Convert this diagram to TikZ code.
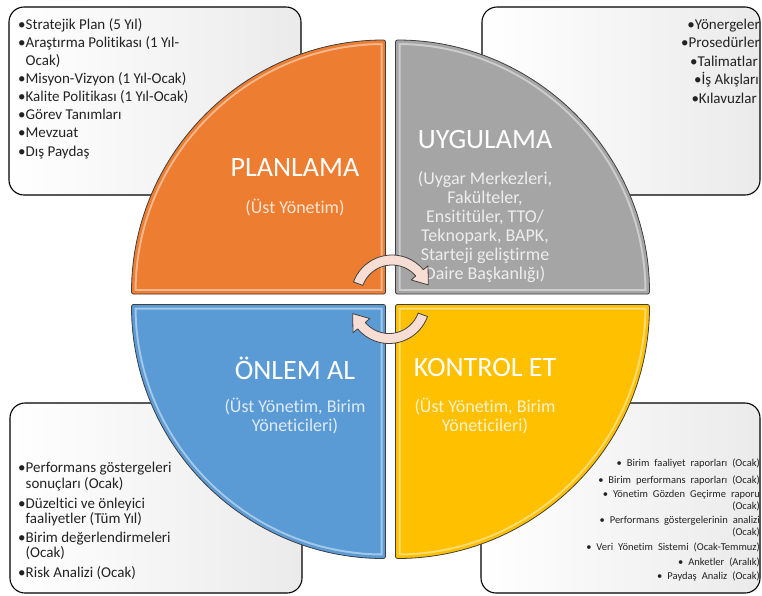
\documentclass[tikz,border=0pt]{standalone}
\usepackage{fontspec}
\setmainfont{Carlito}[Ligatures=NoCommon]
\newfontfamily\notefont{Carlito}[WordSpace=2.1,Ligatures=NoCommon]
\usepackage{tikz}

\definecolor{planorange}{HTML}{ED7D31}
\definecolor{uyggrey}{HTML}{A5A5A5}
\definecolor{onlemblue}{HTML}{5B9BD5}
\definecolor{kontrolgold}{HTML}{FFC000}
\definecolor{arrowpink}{HTML}{F8DDD5}
\definecolor{edgegrey}{HTML}{404040}
\definecolor{itemtext}{HTML}{222222}

% one quarter of the disc: fill, light inner rim, dark outline
\newcommand{\quarterdisc}[2]{%
  \fill[#1, rounded corners=2pt] #2;
  \begin{scope}
    \clip[rounded corners=2pt] #2;
    \draw[white, opacity=.45, line width=10pt, rounded corners=2pt] #2;
    \draw[#1, line width=6pt, rounded corners=2pt] #2;
  \end{scope}
  \draw[edgegrey, line width=.8pt, rounded corners=2pt] #2;
}

\tikzset{
  notebox/.style={draw=black, line width=1.1pt, rounded corners=15pt, left color=white, right color=black!8},
  itemtxt/.style={text=itemtext, font=\fontsize{15}{17}\selectfont, inner sep=0pt},
  tinytxt/.style={text=itemtext, font=\notefont\fontsize{10.5}{12}\selectfont, inner sep=0pt, anchor=base east},
  quadtitle/.style={text=white, font=\fontsize{28}{30}\selectfont},
  quadsub/.style={text=white, text opacity=.8, font=\fontsize{18}{19}\selectfont, align=center},
  cyclearrow/.style={fill=arrowpink, draw=edgegrey, line width=.8pt, line join=round},
}

\begin{document}
\begin{tikzpicture}[x=1pt,y=-1pt]
\useasboundingbox (0,0) rectangle (762,595);

% boxes behind the disc
\draw[notebox] (9,7) rectangle (301,195);
\draw[notebox] (482,7) rectangle (760,195);
\draw[notebox] (10,403) rectangle (302,593);
\draw[notebox] (481,403) rectangle (760,593);

% the four quarters
\quarterdisc{planorange}{(385.5,294) -- (131.5,294) arc (180:270:254) -- cycle}
\quarterdisc{uyggrey}{(395.5,294) -- (395.5,40) arc (270:360:254) -- cycle}
\quarterdisc{kontrolgold}{(395.5,304.5) -- (649.5,304.5) arc (0:90:254) -- cycle}
\quarterdisc{onlemblue}{(385.5,304.5) -- (385.5,558.5) arc (90:180:254) -- cycle}

% planlama list
\node[itemtxt, anchor=base west] (plan1) at (18,29.5) {•Stratejik Plan (5 Yıl)};
\node[itemtxt, anchor=base west] (plan2) at (18,47.5) {•Araştırma Politikası (1 Yıl-};
\node[itemtxt, anchor=base west] (plan3) at (18,65) {\phantom{•}Ocak)};
\node[itemtxt, anchor=base west] (plan4) at (18,83.5) {•Misyon-Vizyon (1 Yıl-Ocak)};
\node[itemtxt, anchor=base west] (plan5) at (18,101) {•Kalite Politikası (1 Yıl-Ocak)};
\node[itemtxt, anchor=base west] (plan6) at (18,119.5) {•Görev Tanımları};
\node[itemtxt, anchor=base west] (plan7) at (18,137.5) {•Mevzuat};
\node[itemtxt, anchor=base west] (plan8) at (18,156) {•Dış Paydaş};

% uygulama list
\node[itemtxt, anchor=base east] (uyg1) at (760,29.5) {•Yönergeler};
\node[itemtxt, anchor=base east] (uyg2) at (760,47.5) {•Prosedürler};
\node[itemtxt, anchor=base east] (uyg3) at (758,66) {•Talimatlar};
\node[itemtxt, anchor=base east] (uyg4) at (759,84.5) {•İş Akışları};
\node[itemtxt, anchor=base east] (uyg5) at (757,103) {•Kılavuzlar};

% onlem list
\node[itemtxt, anchor=base west] (onl1) at (18,472) {•Performans göstergeleri};
\node[itemtxt, anchor=base west] (onl2) at (18,488) {\phantom{•}sonuçları (Ocak)};
\node[itemtxt, anchor=base west] (onl3) at (18,508.5) {•Düzeltici ve önleyici};
\node[itemtxt, anchor=base west] (onl4) at (18,523.5) {\phantom{•}faaliyetler (Tüm Yıl)};
\node[itemtxt, anchor=base west] (onl5) at (18,542) {•Birim değerlendirmeleri};
\node[itemtxt, anchor=base west] (onl6) at (18,557) {\phantom{•}(Ocak)};
\node[itemtxt, anchor=base west] (onl7) at (18,577) {•Risk Analizi (Ocak)};

% kontrol list
\node[tinytxt] (kon1) at (760,466.5) {• Birim faaliyet raporları (Ocak)};
\node[tinytxt] (kon2) at (760,483) {• Birim performans raporları (Ocak)};
\node[tinytxt] (kon3) at (760,497) {• Yönetim Gözden Geçirme raporu};
\node[tinytxt] (kon4) at (760,509) {(Ocak)};
\node[tinytxt] (kon5) at (760,523) {• Performans göstergelerinin analizi};
\node[tinytxt] (kon6) at (760,535.5) {(Ocak)};
\node[tinytxt] (kon7) at (760,550) {• Veri Yönetim Sistemi (Ocak-Temmuz)};
\node[tinytxt] (kon8) at (760,565.5) {• Anketler (Aralık)};
\node[tinytxt] (kon9) at (760,579) {• Paydaş Analiz (Ocak)};

% quarter labels
\node[quadtitle] (planlama) at (295,168) {PLANLAMA};
\node[quadsub] (planlamasub) at (295,208) {(Üst Yönetim)};
\node[quadtitle] (uygulama) at (485,140) {UYGULAMA};
\node[quadsub] (uygulamasub) at (485,227) {(Uygar Merkezleri,\\Fakülteler,\\Ensititüler, TTO/\\Teknopark, BAPK,\\Starteji geliştirme\\Daire Başkanlığı)};
\node[quadtitle] (onlem) at (295,368) {ÖNLEM AL};
\node[quadsub] (onlemsub) at (295,416.5) {(Üst Yönetim, Birim\\Yöneticileri)};
\node[quadtitle] (kontrol) at (485,368) {KONTROL ET};
\node[quadsub] (kontrolsub) at (485,416.5) {(Üst Yönetim, Birim\\Yöneticileri)};

% cycle arrows in the middle
\coordinate (topc) at (392,296);
\coordinate (botc) at (389,302.5);
\draw[cyclearrow] ([shift={(200:41)}]topc) arc (200:320:41) -- ([shift={(320:47)}]topc)
  -- ([shift={(343:38)}]topc) -- ([shift={(320:25)}]topc) -- ([shift={(320:31)}]topc)
  arc (320:200:31) -- cycle;
\draw[cyclearrow] ([shift={(20:41)}]botc) arc (20:140:41) -- ([shift={(140:47)}]botc)
  -- ([shift={(163:38)}]botc) -- ([shift={(140:25)}]botc) -- ([shift={(140:31)}]botc)
  arc (140:20:31) -- cycle;
\end{tikzpicture}
\end{document}
